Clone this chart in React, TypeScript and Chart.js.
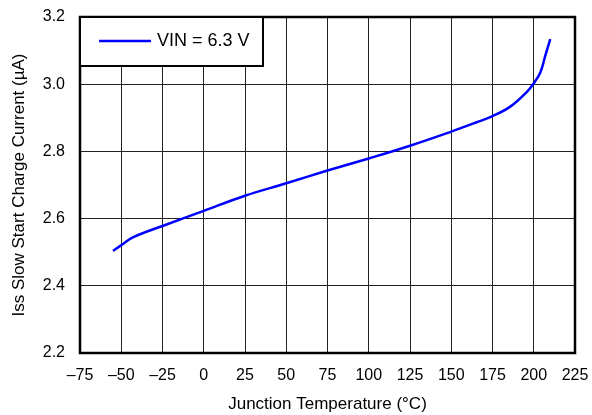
import React, { useEffect, useRef } from "react";
import { Chart, registerables } from "chart.js";

Chart.register(...registerables);

const temps = [-55, -50, -43, -25, 0, 25, 50, 75, 100, 125, 150, 165, 175, 186, 196, 200, 204, 207, 210];
const currents = [2.504, 2.521, 2.544, 2.578, 2.623, 2.668, 2.705, 2.743, 2.779, 2.817, 2.859, 2.886, 2.905, 2.934, 2.978, 3.003, 3.035, 3.085, 3.134];
const seriesLabel = "VIN = 6.3 V";
const xTitle = "Junction Temperature (°C)";
const yTitle = "Iss Slow Start Charge Current (µA)";
const xMin = -75, xMax = 225, xStep = 25;
const yMin = 2.2, yMax = 3.2, yStep = 0.2;

const FONT = "'Liberation Sans', Arial, sans-serif";

const framePlugin = {
  id: "frameLegend",
  afterDraw(chart: any) {
    const { ctx, chartArea } = chart;
    const { left, top, right, bottom } = chartArea;
    ctx.save();
    ctx.strokeStyle = "#000";
    ctx.lineWidth = 2.5;
    ctx.strokeRect(left, top, right - left, bottom - top);
    // legend box
    const bx = left, by = top, bw = 183, bh = 49;
    ctx.fillStyle = "#fff";
    ctx.fillRect(bx, by, bw, bh);
    ctx.lineWidth = 2;
    ctx.strokeRect(bx, by, bw, bh);
    const ds = chart.data.datasets[0];
    ctx.strokeStyle = ds.borderColor;
    ctx.lineWidth = 2.5;
    ctx.beginPath();
    ctx.moveTo(bx + 19, by + 24);
    ctx.lineTo(bx + 71, by + 24);
    ctx.stroke();
    ctx.fillStyle = "#000";
    ctx.font = `18px ${FONT}`;
    ctx.textBaseline = "middle";
    ctx.textAlign = "left";
    ctx.fillText(ds.label, bx + 77, by + 24);
    ctx.restore();
  },
};

const zeroPad = (s: any) => {
  s.paddingLeft = 0;
  s.paddingRight = 0;
  s.paddingTop = 0;
  s.paddingBottom = 0;
};

export default function App() {
  const ref = useRef<HTMLCanvasElement>(null);
  useEffect(() => {
    document.body.style.margin = "0";
    const chart = new Chart(ref.current!, {
      type: "line",
      data: {
        datasets: [
          {
            label: seriesLabel,
            data: temps.map((t, i) => ({ x: t, y: currents[i] })),
            borderColor: "#0000FF",
            borderWidth: 2.5,
            pointRadius: 0,
            tension: 0.4,
            fill: false,
          },
        ],
      },
      options: {
        animation: false,
        responsive: false,
        layout: { padding: { left: 0, top: 17, right: 17, bottom: 0 } },
        plugins: { legend: { display: false }, tooltip: { enabled: false } },
        scales: {
          x: {
            type: "linear",
            min: xMin,
            max: xMax,
            border: { display: false },
            grid: { color: "#222", lineWidth: 1, drawTicks: false },
            ticks: {
              stepSize: xStep,
              color: "#000",
              padding: 13,
              font: { family: FONT, size: 16 },
              callback: (v: any) => (v < 0 ? "\u2013" + Math.abs(v) : String(v)),
            },
            title: { display: true, text: xTitle, color: "#000", font: { family: FONT, size: 17 }, padding: { top: 5, bottom: 0 } },
            afterFit: (s: any) => { s.height = 62; zeroPad(s); },
          },
          y: {
            type: "linear",
            min: yMin,
            max: yMax,
            border: { display: false },
            grid: { color: "#222", lineWidth: 1, drawTicks: false },
            ticks: {
              stepSize: yStep,
              color: "#000",
              padding: 15,
              font: { family: FONT, size: 16 },
              callback: (v: any) => Number(v).toFixed(1),
            },
            title: { display: true, text: yTitle, color: "#000", font: { family: FONT, size: 17 }, padding: { top: 9, bottom: 6 } },
            afterFit: (s: any) => { s.width = 80; zeroPad(s); },
          },
        },
      },
      plugins: [framePlugin],
    } as any);
    return () => chart.destroy();
  }, []);
  return <canvas ref={ref} width={592} height={415} style={{ display: "block" }} />;
}
